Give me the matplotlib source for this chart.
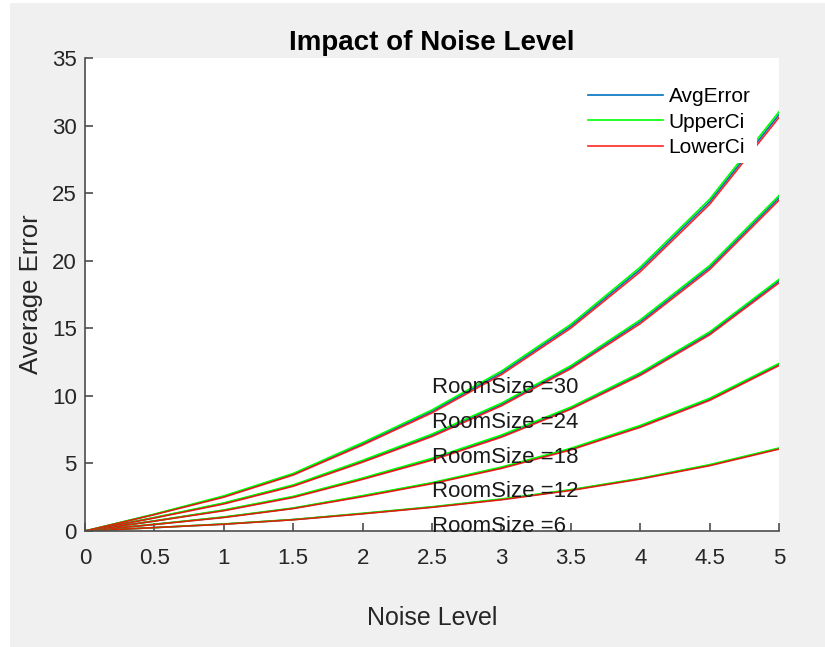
import numpy as np
import matplotlib
matplotlib.use("Agg")
import matplotlib.pyplot as plt
from matplotlib.patches import Rectangle

plt.rcParams['font.family'] = ['Liberation Sans', 'DejaVu Sans']

# noise levels and room sizes
noise = [0, 0.5, 1, 1.5, 2, 2.5, 3, 3.5, 4, 4.5, 5]
room_sizes = [6, 12, 18, 24, 30]

# average error per room size (rows follow room_sizes)
avg_err = [
    [0, 0.25, 0.51, 0.84, 1.29, 1.77, 2.34, 3.03, 3.87, 4.87, 6.10],
    [0, 0.49, 1.02, 1.68, 2.58, 3.54, 4.68, 6.06, 7.74, 9.74, 12.32],
    [0, 0.74, 1.53, 2.52, 3.87, 5.31, 7.02, 9.09, 11.61, 14.62, 18.49],
    [0, 0.98, 2.04, 3.36, 5.16, 7.08, 9.36, 12.12, 15.48, 19.49, 24.65],
    [0, 1.23, 2.55, 4.20, 6.45, 8.85, 11.70, 15.15, 19.35, 24.36, 30.81],
]
upper_ci = [
    [0, 0.25, 0.52, 0.85, 1.31, 1.79, 2.37, 3.06, 3.90, 4.91, 6.14],
    [0, 0.50, 1.04, 1.70, 2.62, 3.58, 4.73, 6.12, 7.81, 9.82, 12.40],
    [0, 0.75, 1.56, 2.56, 3.92, 5.38, 7.10, 9.17, 11.71, 14.73, 18.62],
    [0, 1.00, 2.08, 3.41, 5.23, 7.17, 9.46, 12.23, 15.62, 19.64, 24.82],
    [0, 1.25, 2.60, 4.26, 6.54, 8.96, 11.83, 15.29, 19.52, 24.55, 31.02],
]
lower_ci = [
    [0, 0.25, 0.50, 0.83, 1.27, 1.75, 2.31, 3.00, 3.84, 4.83, 6.06],
    [0, 0.48, 1.00, 1.66, 2.54, 3.50, 4.63, 6.00, 7.67, 9.66, 12.24],
    [0, 0.73, 1.50, 2.48, 3.82, 5.24, 6.94, 9.01, 11.51, 14.51, 18.36],
    [0, 0.96, 2.00, 3.31, 5.09, 6.99, 9.26, 12.01, 15.34, 19.34, 24.48],
    [0, 1.21, 2.50, 4.14, 6.36, 8.74, 11.57, 15.01, 19.18, 24.17, 30.60],
]

# where each room-size label sits
label_x = 2.5
label_y = [0.3, 2.9, 5.45, 8.05, 10.65]

fig = plt.figure(figsize=(8.25, 6.47), dpi=100, facecolor='white')
fig.patches.append(Rectangle((10 / 825, 0), 1, 1 - 3 / 647, transform=fig.transFigure,
                             facecolor='#f0f0f0', edgecolor='none', zorder=-10))

ax = fig.add_axes([85 / 825, 1 - 531 / 647, (779 - 85) / 825, (531 - 58) / 647])
ax.set_facecolor('white')

blue = '#0072bd'
for i in range(len(room_sizes)):
    ax.plot(noise, avg_err[i], color=blue, lw=1.2,
            label='AvgError' if i == 0 else None)
    ax.plot(noise, upper_ci[i], color='#00ff00', lw=1.2,
            label='UpperCi' if i == 0 else None)
    ax.plot(noise, lower_ci[i], color='#ff0000', lw=1.2, alpha=0.85,
            label='LowerCi' if i == 0 else None)

for size, y in zip(room_sizes, label_y):
    ax.text(label_x, y, 'RoomSize =' + str(size), fontsize=16,
            color='#1a1a1a', va='center', ha='left')

ax.set_xlim(0, 5)
ax.set_ylim(0, 35)
ax.set_xticks(np.arange(0, 5.01, 0.5))
ax.set_xticklabels(['0', '0.5', '1', '1.5', '2', '2.5', '3', '3.5', '4', '4.5', '5'])
ax.set_yticks(range(0, 36, 5))

for s in ['top', 'right']:
    ax.spines[s].set_visible(False)
for s in ['left', 'bottom']:
    ax.spines[s].set_color('#4d4d4d')
    ax.spines[s].set_linewidth(1.2)

ax.tick_params(direction='in', length=6, width=1.2, color='#4d4d4d',
               labelsize=16, labelcolor='#262626')
ax.tick_params(axis='x', pad=12)
ax.tick_params(axis='y', pad=6)

ax.set_xlabel('Noise Level', fontsize=18, color='#262626', labelpad=27)
ax.set_ylabel('Average Error', fontsize=18.5, color='#262626', labelpad=6)
ax.set_title('Impact of Noise Level', fontsize=20, fontweight='bold',
             color='black', pad=6)

leg = ax.legend(loc='upper right', bbox_to_anchor=(0.968, 0.951), fontsize=15,
                frameon=True, facecolor='white', edgecolor='none', framealpha=1,
                handlelength=3.6, handletextpad=0.29, labelspacing=0.3,
                borderpad=0.3, borderaxespad=0)
leg.get_frame().set_boxstyle('square', pad=0)

fig.savefig('out.png', dpi=100, facecolor=fig.get_facecolor())
